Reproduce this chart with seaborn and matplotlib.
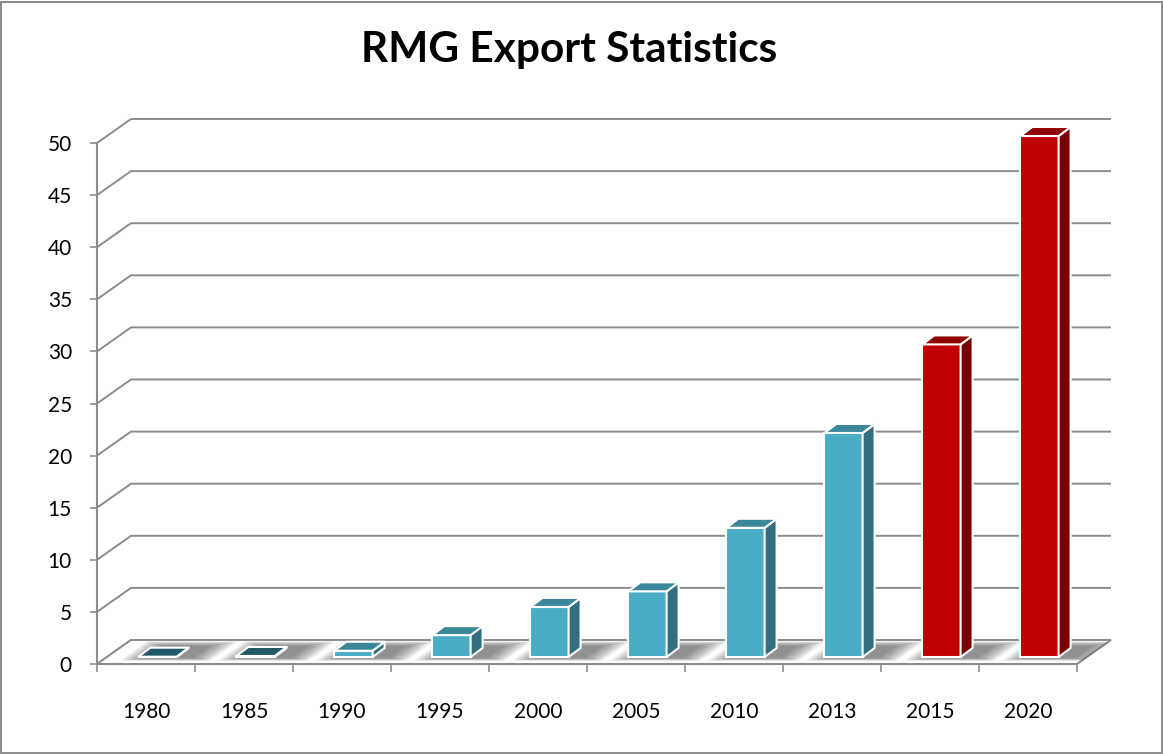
import numpy as np
import pandas as pd
import matplotlib
matplotlib.use("Agg")
import matplotlib.pyplot as plt
import matplotlib.transforms as mtransforms
from matplotlib.patches import Polygon, Rectangle
import seaborn as sns

# ---- data -------------------------------------------------------------
years = ["1980", "1985", "1990", "1995", "2000", "2005", "2010", "2013", "2015", "2020"]
exports = [0.03, 0.1, 0.6, 2.1, 4.8, 6.3, 12.4, 21.5, 30, 50]   # billion USD
y_ticks = [0, 5, 10, 15, 20, 25, 30, 35, 40, 45, 50]
title = "RMG Export Statistics"

# face colours of each column: front, right side, top
front_colors = ["#215967", "#215967"] + ["#4BACC6"] * 6 + ["#C00000"] * 2
side_colors = ["#1B4A56", "#1B4A56"] + ["#316E80"] * 6 + ["#7A0000"] * 2
top_colors = ["#215967", "#215967"] + ["#3A8799"] * 6 + ["#900000"] * 2

# ---- styling ----------------------------------------------------------
sns.set_theme(style="white")
plt.rcParams["font.family"] = ["Lato", "DejaVu Sans"]
GRID = "#8C8C8C"

W, H, DPI = 1163, 754, 100
fig = plt.figure(figsize=(W / DPI, H / DPI), dpi=DPI)
fig.patch.set_facecolor("white")
ax = fig.add_axes([97 / W, (H - 664) / H, (1077 - 97) / W, (664 - 143) / H])
ax.set_facecolor("none")

df = pd.DataFrame({"year": years, "value": exports})
sns.barplot(data=df, x="year", y="value", hue="year", palette=front_colors,
            width=0.39, saturation=1, legend=False, edgecolor="white",
            linewidth=1.5, ax=ax, zorder=5)
ax.set_xlim(-0.5, len(years) - 0.5)
ax.set_ylim(0, 50)
bars = sorted(list(ax.patches), key=lambda p: p.get_x())

# pixel -> data conversion for the pseudo-3D depth
p0 = ax.transData.transform((0, 0))
px_x = ax.transData.transform((1, 0))[0] - p0[0]
px_y = ax.transData.transform((0, 1))[1] - p0[1]
def dx(px):
    return px / px_x
def dy(px):
    return px / px_y

WALL_DX, WALL_DY = 34, 24        # depth of floor / side wall in pixels
BAR_DX, BAR_DY = 12, 9           # depth of a column in pixels
SHIFT_DX, SHIFT_DY = 11.5, 7     # columns stand in the middle of the floor
x_lo, x_hi = -0.5, len(years) - 0.5

# back wall gridlines with the diagonal along the side wall
for v in y_ticks:
    ax.plot([x_lo, x_lo + dx(WALL_DX), x_hi + dx(WALL_DX)],
            [v, v + dy(WALL_DY), v + dy(WALL_DY)],
            color=GRID, lw=1.4, clip_on=False, zorder=1, solid_capstyle="butt")

# floor
floor = Polygon([(x_lo, 0), (x_hi, 0), (x_hi + dx(WALL_DX), dy(WALL_DY)),
                 (x_lo + dx(WALL_DX), dy(WALL_DY))], closed=True,
                facecolor="white", edgecolor=GRID, lw=1.4, clip_on=False, zorder=1.5)
ax.add_patch(floor)

shift = mtransforms.ScaledTranslation(SHIFT_DX / DPI, SHIFT_DY / DPI, fig.dpi_scale_trans)
bar_trans = ax.transData + shift

# soft shadows on the floor around each column footprint
def floor_quad(xl, xr, t0, t1):
    k = WALL_DX / WALL_DY
    return [(xl + dx(t0 * k), dy(t0)), (xr + dx(t0 * k), dy(t0)),
            (xr + dx(t1 * k), dy(t1)), (xl + dx(t1 * k), dy(t1))]

for b in bars:
    xl = b.get_x() + dx(SHIFT_DX)
    xr = xl + b.get_width() + dx(BAR_DX * 0.5)
    for k in range(10):
        e = 1.5 + 2.4 * k
        t0 = max(2.5, SHIFT_DY - 1 - 0.12 * e)
        t1 = min(WALL_DY - 1.0, SHIFT_DY + BAR_DY + 2 + 0.2 * e)
        sh = Polygon(floor_quad(xl - dx(e), xr + dx(e), t0, t1), closed=True,
                     facecolor="#4A4A4A", edgecolor="none", alpha=0.085, zorder=2)
        ax.add_patch(sh)
        sh.set_clip_box(None)
        sh.set_clip_path(floor)

# columns: front faces from seaborn, plus right side and top faces
for b, sc, tc in zip(bars, side_colors, top_colors):
    b.set_transform(bar_trans)
    b.set_clip_on(False)
    b.set_zorder(5)
    x0, w, h = b.get_x(), b.get_width(), b.get_height()
    x1 = x0 + w
    side = Polygon([(x1, 0), (x1 + dx(BAR_DX), dy(BAR_DY)),
                    (x1 + dx(BAR_DX), h + dy(BAR_DY)), (x1, h)], closed=True,
                   facecolor=sc, edgecolor="white", lw=1.5, transform=bar_trans,
                   clip_on=False, zorder=5, joinstyle="round")
    top = Polygon([(x0, h), (x1, h), (x1 + dx(BAR_DX), h + dy(BAR_DY)),
                   (x0 + dx(BAR_DX), h + dy(BAR_DY))], closed=True,
                  facecolor=tc, edgecolor="white", lw=1.5, transform=bar_trans,
                  clip_on=False, zorder=5, joinstyle="round")
    ax.add_patch(side)
    ax.add_patch(top)

# axes, ticks and labels
for s in ["top", "right"]:
    ax.spines[s].set_visible(False)
for s in ["left", "bottom"]:
    ax.spines[s].set_color(GRID)
    ax.spines[s].set_linewidth(1.5)
    ax.spines[s].set_zorder(6)

ax.set_yticks(y_ticks)
ax.set_yticklabels([str(v) for v in y_ticks])
ax.tick_params(axis="y", which="major", direction="out", length=5, width=1.2,
               color=GRID, pad=13, labelsize=15, labelcolor="black", left=True)
ax.set_xticks(range(len(years)))
ax.set_xticklabels(years)
ax.set_xticks(np.arange(x_lo, x_hi + 0.01, 1), minor=True)
ax.tick_params(axis="x", which="major", length=0, pad=27, labelsize=15,
               labelcolor="black")
ax.tick_params(axis="x", which="minor", direction="out", length=6, width=1.2,
               color=GRID, bottom=True)
ax.set_xlabel("")
ax.set_ylabel("")
ax.grid(False)

fig.text(569 / W, 1 - 50 / H, title, ha="center", va="center",
         fontsize=30.5, fontweight="bold", color="black")

# chart border
fig.patches.append(Rectangle((1 / W, 1.5 / H), (W - 2.5) / W, (H - 3) / H,
                             transform=fig.transFigure, fill=False,
                             edgecolor="#8A8A8A", lw=1.4))

fig.savefig("out.png", dpi=DPI)
